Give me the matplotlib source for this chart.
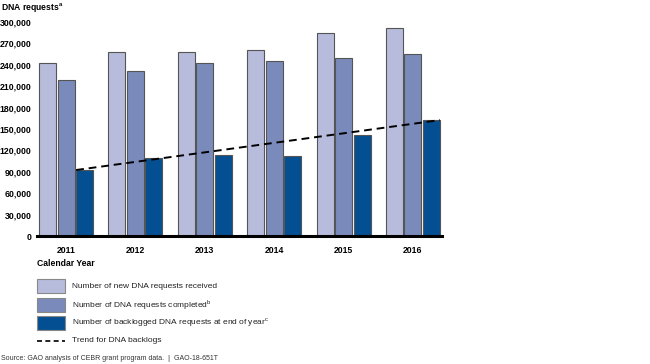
import matplotlib
matplotlib.use("Agg")
import matplotlib.pyplot as plt
import numpy as np
from matplotlib.patches import Rectangle
from matplotlib.lines import Line2D

years = ["2011", "2012", "2013", "2014", "2015", "2016"]
received = [242500, 258500, 257500, 260500, 284000, 291500]
completed = [218000, 231000, 242500, 246000, 249500, 255000]
backlog = [92500, 110000, 113500, 112000, 141000, 162500]
trend_start = 92500
trend_end = 162500
yticks = [0, 30000, 60000, 90000, 120000, 150000, 180000, 210000, 240000, 270000, 300000]

c_light = "#B8BCDC"
c_mid = "#7A8BBB"
c_dark = "#044F92"
edge = "#555555"

plt.rcParams['font.family'] = ['Liberation Sans', 'DejaVu Sans']

W, H = 650, 364
fig = plt.figure(figsize=(W / 100, H / 100), dpi=100)
ax = fig.add_axes([37 / W, (H - 236) / H, (442 - 37) / W, (236 - 22) / H])

x = np.arange(len(years))
step = 0.267
bw = 0.245
ax.bar(x - step, received, width=bw, color=c_light, edgecolor=edge, linewidth=0.8, zorder=2)
ax.bar(x, completed, width=bw, color=c_mid, edgecolor=edge, linewidth=0.8, zorder=2)
ax.bar(x + step, backlog, width=bw, color=c_dark, edgecolor=edge, linewidth=0.8, zorder=2)

ax.plot([x[0] + step - bw / 2, x[-1] + step + bw / 2], [trend_start, trend_end],
        color="black", linestyle=(0, (4, 2.5)), linewidth=1.4, zorder=3)

ax.set_xlim(-0.42, len(years) - 1 + 0.42)
ax.set_ylim(0, 300000)
ax.set_yticks(yticks)
ax.set_yticklabels([f"{v:,}" for v in yticks], fontsize=6.3, fontweight="bold")
ax.set_xticks(x)
ax.set_xticklabels(years, fontsize=6.2, fontweight="bold")
ax.tick_params(axis="y", length=0, pad=4)
ax.tick_params(axis="x", length=0, pad=7)
for s in ["top", "right", "left"]:
    ax.spines[s].set_visible(False)
ax.spines["bottom"].set_linewidth(2.2)
ax.spines["bottom"].set_zorder(4)

fig.text(1 / W, 1 - 8 / H, "DNA requests$^{\\mathregular{a}}$", fontsize=6.2, fontweight="bold",
         va="center", ha="left")
fig.text(37 / W, 1 - 264 / H, "Calendar Year", fontsize=6.2, fontweight="bold", va="center", ha="left")

legend_items = [
    (c_light, "Number of new DNA requests received", 286),
    (c_mid, "Number of DNA requests completed$^{\\mathregular{b}}$", 305),
    (c_dark, "Number of backlogged DNA requests at end of year$^{\\mathregular{c}}$", 323),
]
for col, label, yc in legend_items:
    fig.patches.append(Rectangle((37 / W, 1 - (yc + 7) / H), 28 / W, 14 / H,
                                 transform=fig.transFigure, facecolor=col, edgecolor="#888888",
                                 linewidth=0.8))
    fig.text(72 / W, 1 - yc / H, label, fontsize=6, color="#222222", va="center", ha="left")

fig.lines.append(Line2D([37 / W, 65 / W], [1 - 341 / H, 1 - 341 / H], transform=fig.transFigure,
                        color="black", linestyle=(0, (3, 2)), linewidth=1.2))
fig.text(72 / W, 1 - 341 / H, "Trend for DNA backlogs", fontsize=6, color="#222222", va="center", ha="left")

fig.text(1 / W, 1 - 358 / H, "Source: GAO analysis of CEBR grant program data.  |  GAO-18-651T",
         fontsize=5, color="#333333", va="center", ha="left")

fig.savefig("out.png", dpi=100)
